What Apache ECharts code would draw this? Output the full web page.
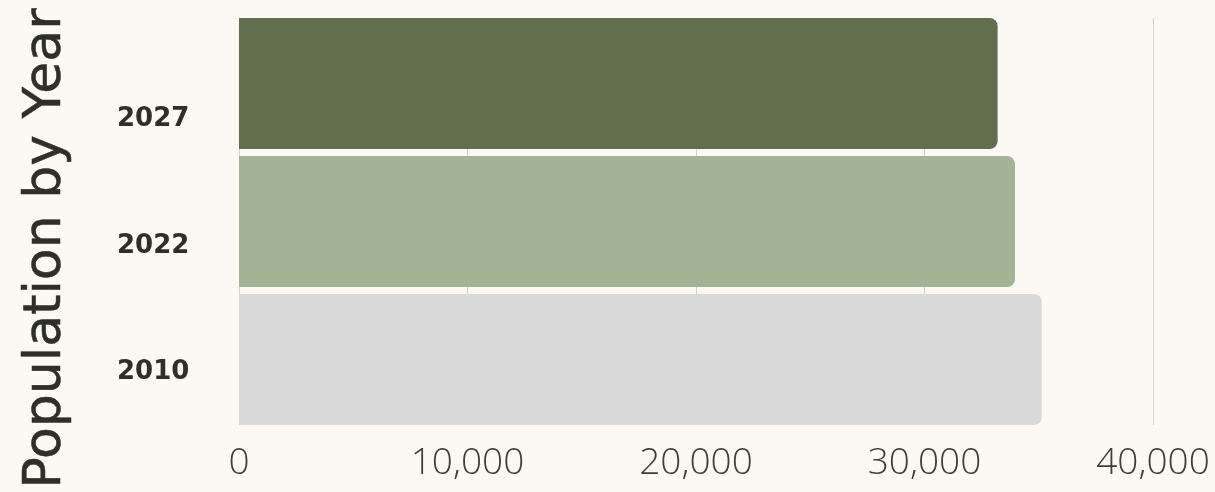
<!DOCTYPE html>
<html>
<head>
<meta charset="utf-8">
<script src="https://cdn.jsdelivr.net/npm/echarts@6/dist/echarts.min.js"></script>
<style>
html,body{margin:0;padding:0;background:#fcf9f4;}
#c{width:1215px;height:492px;}
</style>
</head>
<body>
<div id="c"></div>
<script>
const categories = ['2010', '2022', '2027'];
const values = [35130, 33960, 33200];
const barColors = ['#d9d9d9', '#a3b494', '#616f4f'];
const xTicks = [0, 10000, 20000, 30000, 40000];
const titleText = 'Population by Year';

const xMin = xTicks[0], xMax = xTicks[xTicks.length - 1], xStep = xTicks[1] - xTicks[0];

const chart = echarts.init(document.getElementById('c'));
chart.setOption({
  backgroundColor: '#fcf9f4',
  animation: false,
  grid: [
    {left: 239, right: 62, top: 18, bottom: 67},
    {left: 239, right: 62, top: 56, bottom: 56},
    {left: 239, right: 62, top: 14.5, bottom: 63.5}
  ],
  xAxis: [
    {
      type: 'value', gridIndex: 0, min: xMin, max: xMax, interval: xStep,
      axisLine: {show: false}, axisTick: {show: false},
      splitLine: {show: true, lineStyle: {color: '#d6d3ce', width: 1}},
      axisLabel: {
        margin: 20,
        fontFamily: 'Open Sans', fontWeight: 300, fontSize: 37, color: '#3e3e3a',
        formatter: v => v.toLocaleString('en-US')
      }
    },
    {type: 'value', gridIndex: 1, show: false, min: xMin, max: xMax},
    {type: 'value', gridIndex: 2, show: false, min: xMin, max: xMax}
  ],
  yAxis: [
    {
      type: 'category', gridIndex: 0, data: categories,
      axisLine: {show: false}, axisTick: {show: false}, axisLabel: {show: false}
    },
    {
      type: 'category', gridIndex: 1, data: categories,
      axisLine: {show: false}, axisTick: {show: false}, splitLine: {show: false},
      axisLabel: {
        align: 'left', margin: 122,
        fontFamily: 'DejaVu Sans', fontWeight: 'bold', fontSize: 26, color: '#2e2e2b'
      }
    },
    {
      type: 'category', gridIndex: 2, data: categories, show: false
    }
  ],
  graphic: [{
    type: 'text', x: 46, y: 248.5, rotation: Math.PI / 2,
    style: {
      text: titleText, fontFamily: 'DejaVu Sans', fontSize: 52, fill: '#2e2e2b',
      stroke: '#2e2e2b', lineWidth: 0.5,
      align: 'center', verticalAlign: 'middle'
    }
  }],
  series: [{
    type: 'bar', xAxisIndex: 2, yAxisIndex: 2,
    barCategoryGap: '5%',
    data: values.map((v, i) => ({value: v, itemStyle: {color: barColors[i]}})),
    itemStyle: {borderRadius: [0, 8, 8, 0]}
  }]
});
</script>
</body>
</html>
